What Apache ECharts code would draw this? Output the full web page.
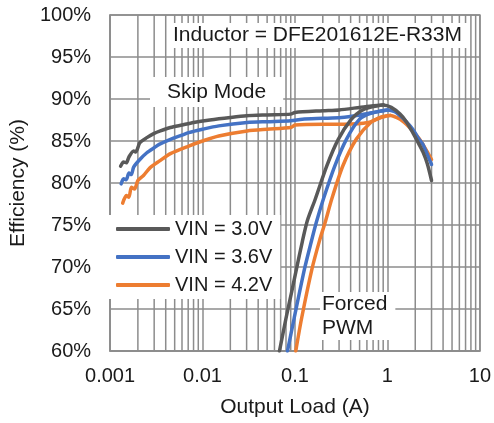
<!DOCTYPE html>
<html>
<head>
<meta charset="utf-8">
<script src="https://cdn.jsdelivr.net/npm/echarts@6/dist/echarts.min.js"></script>
<style>
html,body{margin:0;padding:0;background:#fff;}
#chart{width:494px;height:423px;}
</style>
</head>
<body>
<div id="chart"></div>
<script>
// ---- Data ----
var seriesNames = ['VIN = 3.0V', 'VIN = 3.6V', 'VIN = 4.2V'];
var seriesColors = ['#595959', '#4472C4', '#ED7D31'];

var xTickLabels = ['0.001', '0.01', '0.1', '1', '10'];
var yTickLabels = ['60%', '65%', '70%', '75%', '80%', '85%', '90%', '95%', '100%'];
var minorGridLoads = [0.002,0.003,0.004,0.005,0.006,0.007,0.008,0.009,
                      0.02,0.03,0.04,0.05,0.06,0.07,0.08,0.09,
                      0.2,0.3,0.4,0.5,0.6,0.7,0.8,0.9,
                      2,3,4,5,6,7,8,9];

// Skip mode, VIN = 3.0V
var skip30Load = [0.0013,0.0014,0.0015,0.0016,0.0018,0.0019,0.0021,0.0025,0.003,0.0035,0.0045,0.006,0.008,0.012,0.02,0.03,0.05,0.09,0.1,0.2,0.3,0.5,0.7,0.9,1.1,1.37,1.6,1.88,2.2,2.42,2.7,3.0];
var skip30Eff  = [82.0,82.5,82.4,83.1,83.8,83.7,84.8,85.4,85.9,86.2,86.6,86.9,87.2,87.5,87.8,88.0,88.1,88.2,88.4,88.6,88.7,89.0,89.2,89.3,89.0,88.2,87.3,86.0,84.6,83.7,82.3,80.3];
// Forced PWM, VIN = 3.0V
var pwm30Load = [0.068,0.08,0.092,0.104,0.12,0.136,0.166,0.221,0.294,0.408,0.52,0.65,0.9];
var pwm30Eff  = [60.0,63.9,67.0,69.8,73.0,75.5,78.1,82.05,85.2,87.6,88.6,89.0,89.3];

// Skip mode, VIN = 3.6V
var skip36Load = [0.00132,0.0014,0.0015,0.0016,0.0017,0.0018,0.0021,0.0025,0.003,0.0034,0.0045,0.006,0.0071,0.01,0.015,0.0304,0.05,0.09,0.12,0.2,0.318,0.5,0.71,1.0,1.2,1.37,1.6,1.88,2.2,2.42,2.7,3.0];
var skip36Eff  = [79.9,80.5,80.4,81.2,81.0,81.9,82.8,83.6,84.2,84.6,85.2,85.7,86.0,86.4,86.8,87.2,87.3,87.4,87.6,87.7,87.8,88.1,88.4,88.7,88.5,88.0,87.3,86.4,85.2,84.6,83.4,82.2];
// Forced PWM, VIN = 3.6V
var pwm36Load = [0.083,0.098,0.127,0.15,0.17,0.203,0.27,0.36,0.50,0.66,1.0];
var pwm36Eff  = [60.0,63.9,69.8,73.0,75.3,78.1,82.05,85.2,87.6,88.3,88.7];

// Skip mode, VIN = 4.2V
var skip42Load = [0.00137,0.0015,0.0016,0.0017,0.00184,0.002,0.0023,0.0027,0.0034,0.0045,0.0071,0.01,0.015,0.0304,0.05,0.09,0.1,0.2,0.34,0.62,0.85,1.07,1.37,1.6,1.88,2.2,2.42,2.7,3.0];
var skip42Eff  = [77.6,78.5,78.3,79.5,79.3,80.3,80.9,81.8,82.6,83.5,84.4,85.0,85.6,86.2,86.4,86.6,86.9,87.0,87.0,87.2,87.8,88.05,87.6,87.0,86.2,85.3,84.6,83.7,82.8];
// Forced PWM, VIN = 4.2V
var pwm42Load = [0.102,0.118,0.153,0.185,0.212,0.25,0.33,0.46,0.66,0.88,1.07];
var pwm42Eff  = [60.0,63.9,69.8,73.2,75.3,78.1,82.05,85.2,87.2,87.9,88.05];

// ---- Build chart ----
function pairs(xs, ys) { return xs.map(function (x, i) { return [x, ys[i]]; }); }

var FONT = 'Liberation Sans, Arial, Helvetica, sans-serif';
var GRID_COLOR = '#8c8c8c';
var Y_MIN = 60, Y_MAX = 100;

var curves = [
  [skip30Load, skip30Eff, pwm30Load, pwm30Eff],
  [skip36Load, skip36Eff, pwm36Load, pwm36Eff],
  [skip42Load, skip42Eff, pwm42Load, pwm42Eff]
];

// minor vertical gridlines (log axis 2..9 of each decade), drawn through the axes
var series = minorGridLoads.map(function (v) {
  return {
    type: 'line',
    name: 'minor-grid',
    data: [[v, Y_MIN], [v, Y_MAX]],
    silent: true,
    showSymbol: false,
    symbol: 'none',
    z: 1,
    lineStyle: { color: GRID_COLOR, width: 1.5 },
    emphasis: { disabled: true },
    tooltip: { show: false }
  };
});

curves.forEach(function (c, i) {
  [[c[0], c[1]], [c[2], c[3]]].forEach(function (p) {
    series.push({
      type: 'line',
      name: seriesNames[i],
      data: pairs(p[0], p[1]),
      showSymbol: false,
      symbol: 'none',
      smooth: 0.25,
      z: 10 + (2 - i),
      lineStyle: { color: seriesColors[i], width: 3.5, cap: 'round', join: 'round' },
      itemStyle: { color: seriesColors[i] },
      emphasis: { disabled: true }
    });
  });
});

var chart = echarts.init(document.getElementById('chart'), null, { renderer: 'canvas' });
chart.setOption({
  animation: false,
  backgroundColor: '#ffffff',
  textStyle: { fontFamily: FONT },
  grid: {
    left: 104, right: 13, top: 15, bottom: 70,
    show: true, borderColor: GRID_COLOR, borderWidth: 1.5, backgroundColor: 'transparent'
  },
  xAxis: {
    type: 'log',
    logBase: 10,
    min: 0.001,
    max: 10,
    name: 'Output Load (A)',
    nameLocation: 'middle',
    nameGap: 46,
    nameTextStyle: { fontSize: 21, color: '#1a1a1a', fontFamily: FONT },
    axisLine: { show: true, lineStyle: { color: GRID_COLOR, width: 1.5 } },
    axisTick: { show: false },
    axisLabel: {
      fontSize: 20, color: '#1a1a1a', margin: 15, fontFamily: FONT,
      formatter: function (v) {
        var idx = Math.round(Math.log(v) / Math.LN10) + 3;
        return xTickLabels[idx] !== undefined ? xTickLabels[idx] : '';
      }
    },
    splitLine: { show: true, lineStyle: { color: GRID_COLOR, width: 1.5 } }
  },
  yAxis: {
    type: 'value',
    min: Y_MIN,
    max: Y_MAX,
    interval: 5,
    name: 'Efficiency (%)',
    nameLocation: 'middle',
    nameGap: 67,
    nameTextStyle: { fontSize: 21, color: '#1a1a1a', fontFamily: FONT },
    axisLine: { show: true, lineStyle: { color: GRID_COLOR, width: 1.5 } },
    axisTick: { show: false },
    axisLabel: {
      fontSize: 20, color: '#1a1a1a', margin: 19, fontFamily: FONT,
      formatter: function (v) {
        var idx = Math.round((v - 60) / 5);
        return yTickLabels[idx] !== undefined ? yTickLabels[idx] : '';
      }
    },
    splitLine: { show: true, lineStyle: { color: GRID_COLOR, width: 1.5 } }
  },
  legend: {
    data: seriesNames,
    orient: 'vertical',
    left: 108,
    top: 215,
    backgroundColor: '#ffffff',
    padding: [4, 8, 4, 8],
    itemGap: 8,
    itemWidth: 54,
    itemHeight: 4,
    icon: 'roundRect',
    selectedMode: false,
    z: 20,
    textStyle: { fontSize: 20, color: '#1a1a1a', fontFamily: FONT, lineHeight: 20, padding: [0, 0, 0, 0] }
  },
  graphic: [
    {
      type: 'text', left: 168, top: 23, z: 100,
      style: {
        text: 'Inductor = DFE201612E-R33M',
        font: '21px ' + FONT, fill: '#1a1a1a',
        backgroundColor: '#ffffff', padding: [2, 6, 2, 5]
      }
    },
    {
      type: 'text', left: 150, top: 77, z: 100,
      style: {
        text: 'Skip Mode',
        font: '21px ' + FONT, fill: '#1a1a1a',
        backgroundColor: '#ffffff', padding: [5, 17, 4, 17]
      }
    },
    {
      type: 'text', left: 320, top: 292, z: 100,
      style: {
        text: 'Forced\nPWM',
        font: '21px ' + FONT, fill: '#1a1a1a', lineHeight: 24,
        backgroundColor: '#ffffff', padding: [0, 8, 0, 2]
      }
    }
  ],
  series: series
});
</script>
</body>
</html>
